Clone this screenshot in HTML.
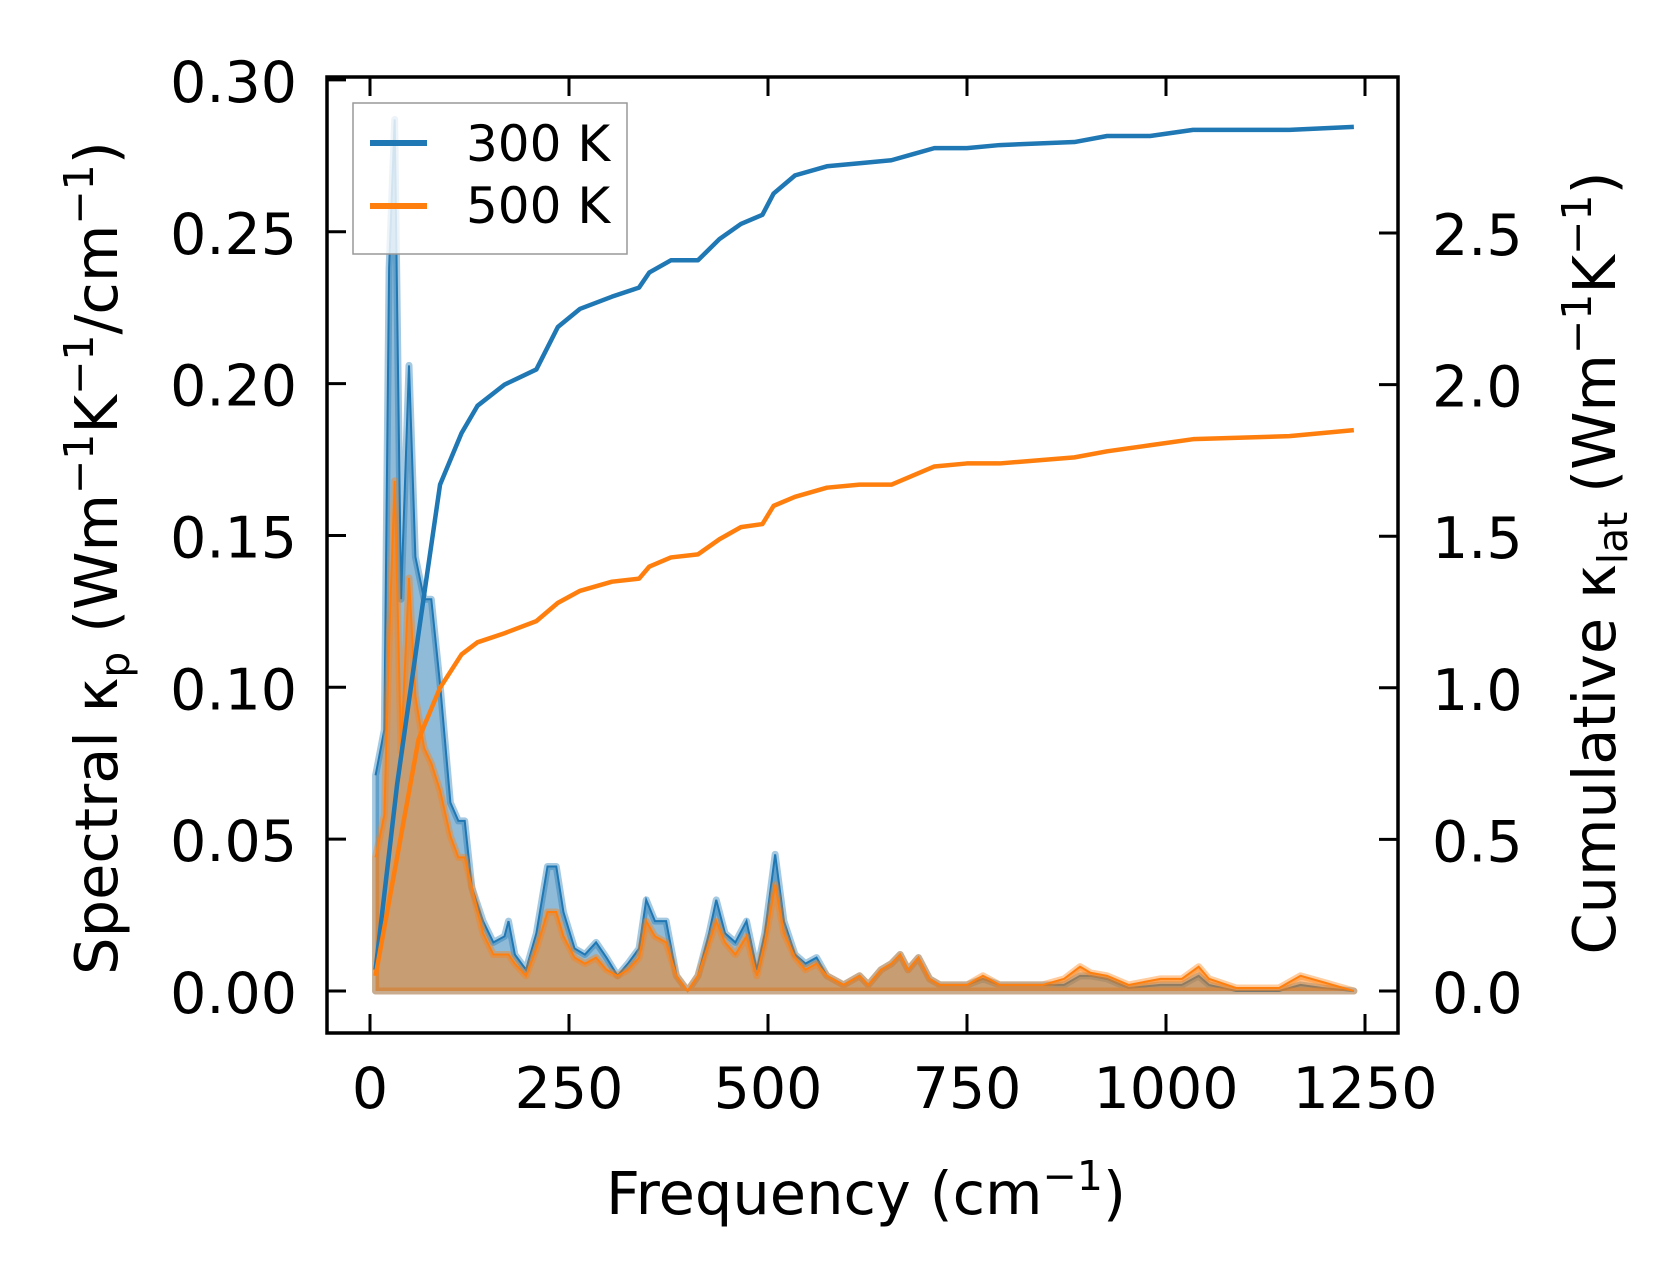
<!DOCTYPE html>
<html><head><meta charset="utf-8"><style>
body{margin:0;background:#fff}
svg{display:block;font-family:"DejaVu Sans","Liberation Sans",sans-serif}
</style></head><body>
<svg id="chart" width="1679" height="1282" viewBox="0 0 1679 1282" xmlns="http://www.w3.org/2000/svg">
<rect width="1679" height="1282" fill="#fff"/>
<g id="marks"></g>
<g id="axes"></g>
</svg>
<script>
const specFreq=[7,18,24,31,39,49,57,68,77,88,101,111,119,128,142,155,169,174,182,196,209,223,234,243,257,270,284,297,311,324,338,347,358,372,385,399,412,426,435,446,459,473,486,496,509,520,534,547,561,574,595,615,626,642,655,666,676,689,703,716,750,770,791,818,845,872,892,905,926,953,993,1020,1041,1054,1088,1142,1169,1196,1236];
const spec300=[.071,.086,.238,.287,.129,.206,.143,.129,.129,.101,.062,.056,.056,.034,.023,.016,.018,.023,.012,.007,.019,.041,.041,.026,.014,.012,.016,.011,.005,.009,.014,.030,.023,.023,.005,0,.005,.019,.030,.019,.016,.023,.007,.019,.045,.023,.012,.009,.011,.005,.002,.005,.002,.007,.009,.012,.007,.011,.004,.002,.002,.004,.002,.002,.002,.002,.005,.005,.004,.001,.002,.002,.005,.002,0,0,.002,.001,0];
const spec500=[.044,.058,.115,.168,.079,.136,.097,.080,.075,.066,.051,.044,.044,.034,.019,.012,.012,.012,.009,.005,.014,.026,.026,.018,.011,.009,.011,.007,.005,.007,.011,.023,.018,.016,.005,0,.005,.016,.023,.016,.012,.018,.005,.016,.035,.019,.011,.007,.009,.005,.002,.005,.002,.007,.009,.012,.007,.011,.004,.002,.002,.005,.002,.002,.002,.004,.008,.006,.005,.002,.004,.004,.008,.004,.001,.001,.005,.003,0];
const cumFreq=[7,34,61,88,115,135,169,209,236,264,304,338,351,378,412,439,466,493,507,534,574,615,655,682,709,750,791,885,926,980,1034,1155,1236];
const cum300=[.07,.68,1.18,1.67,1.84,1.93,2.0,2.05,2.19,2.25,2.29,2.32,2.37,2.41,2.41,2.48,2.53,2.56,2.63,2.69,2.72,2.73,2.74,2.76,2.78,2.78,2.79,2.80,2.82,2.82,2.84,2.84,2.85];
const cum500=[.05,.44,.83,1.0,1.11,1.15,1.18,1.22,1.28,1.32,1.35,1.36,1.40,1.43,1.44,1.49,1.53,1.54,1.60,1.63,1.66,1.67,1.67,1.70,1.73,1.74,1.74,1.76,1.78,1.80,1.82,1.83,1.85];
const xTicks=[0,250,500,750,1000,1250];
const yLTicks=[0,0.05,0.10,0.15,0.20,0.25,0.30];
const yRTicks=[0,0.5,1.0,1.5,2.0,2.5];

const NS="http://www.w3.org/2000/svg";
const L=327,R=1398,T=77,B=1033;
const xs=f=>370+f*0.796;
const yl=v=>991-v*3037;
const yr=v=>991-v*303.2;
const marks=document.getElementById('marks'),axes=document.getElementById('axes');
function mk(tag,attrs,parent){const e=document.createElementNS(NS,tag);for(const k in attrs)e.setAttribute(k,attrs[k]);parent.appendChild(e);return e;}
function area(fr,vals,color,name){
  let d='M'+xs(fr[0])+','+yl(0);
  fr.forEach((f,i)=>d+=' L'+xs(f)+','+yl(vals[i]));
  d+=' L'+xs(fr[fr.length-1])+','+yl(0)+'Z';
  const a=mk('path',{d:d,fill:color,'fill-opacity':0.5,stroke:color,'stroke-opacity':0.4,'stroke-width':7,'stroke-linejoin':'round'},marks);
  
  
  const p=mk('polyline',{points:fr.map((f,i)=>xs(f)+','+yl(vals[i])).join(' '),fill:'none',stroke:color,'stroke-width':2},marks);
  
  
}
area(specFreq,spec300,'#1f77b4','spectral-300k');
area(specFreq,spec500,'#ff7f0e','spectral-500k');
function cum(vals,color,name){
  const p=mk('polyline',{points:cumFreq.map((f,i)=>xs(f)+','+yr(vals[i])).join(' '),fill:'none',stroke:color,'stroke-width':4.5,'stroke-linejoin':'round'},marks);
  
  
}
cum(cum300,'#1f77b4','cumulative-300k');
cum(cum500,'#ff7f0e','cumulative-500k');

const frame=mk('rect',{x:L,y:T,width:R-L,height:B-T,fill:'none',stroke:'#000','stroke-width':3.5},axes);


xTicks.forEach(t=>{
  const x=xs(t);
  mk('line',{x1:x,x2:x,y1:B,y2:B-19,stroke:'#000','stroke-width':3},axes);
  mk('line',{x1:x,x2:x,y1:T,y2:T+19,stroke:'#000','stroke-width':3},axes);
  const tx=mk('text',{x:x,y:1108,'font-size':57,'text-anchor':'middle'},axes);
  tx.textContent=String(t);
  
  
});
yLTicks.forEach(t=>{
  const y=yl(t);
  mk('line',{x1:L,x2:L+19,y1:y,y2:y,stroke:'#000','stroke-width':3},axes);
  const tx=mk('text',{x:297,y:y+22,'font-size':57,'text-anchor':'end'},axes);
  tx.textContent=t.toFixed(2);
  
  
});
yRTicks.forEach(t=>{
  const y=yr(t);
  mk('line',{x1:R,x2:R-19,y1:y,y2:y,stroke:'#000','stroke-width':3},axes);
  const tx=mk('text',{x:1432,y:y+22,'font-size':57,'text-anchor':'start'},axes);
  tx.textContent=t.toFixed(1);
  
  
});
</script>
<svg style="position:absolute;left:0;top:0" width="1679" height="1282" font-family="DejaVu Sans, Liberation Sans, sans-serif">
<g>
<rect x="353" y="103" width="274" height="151" fill="#fff" fill-opacity="0.8" stroke="#999" stroke-width="1.5"/>
<line x1="370" x2="427" y1="143" y2="143" stroke="#1f77b4" stroke-width="6"/>
<text x="466" y="161" font-size="50">300 K</text>
<line x1="370" x2="427" y1="206" y2="206" stroke="#ff7f0e" stroke-width="6"/>
<text x="466" y="223" font-size="50">500 K</text>
</g>
<text x="866" y="1214" font-size="59" text-anchor="middle">Frequency (cm<tspan dy="-24" font-size="41">−1</tspan><tspan dy="24">)</tspan></text>
<text transform="translate(117,558) rotate(-90)" font-size="59" text-anchor="middle">Spectral κ<tspan dy="12" font-size="41">p</tspan><tspan dy="-12"> (Wm</tspan><tspan dy="-24" font-size="41">−1</tspan><tspan dy="24">K</tspan><tspan dy="-24" font-size="41">−1</tspan><tspan dy="24">/cm</tspan><tspan dy="-24" font-size="41">−1</tspan><tspan dy="24">)</tspan></text>
<text transform="translate(1615,563) rotate(-90)" font-size="59" text-anchor="middle">Cumulative κ<tspan dy="12" font-size="41">lat</tspan><tspan dy="-12"> (Wm</tspan><tspan dy="-24" font-size="41">−1</tspan><tspan dy="24">K</tspan><tspan dy="-24" font-size="41">−1</tspan><tspan dy="24">)</tspan></text>
</svg>
</body></html>
